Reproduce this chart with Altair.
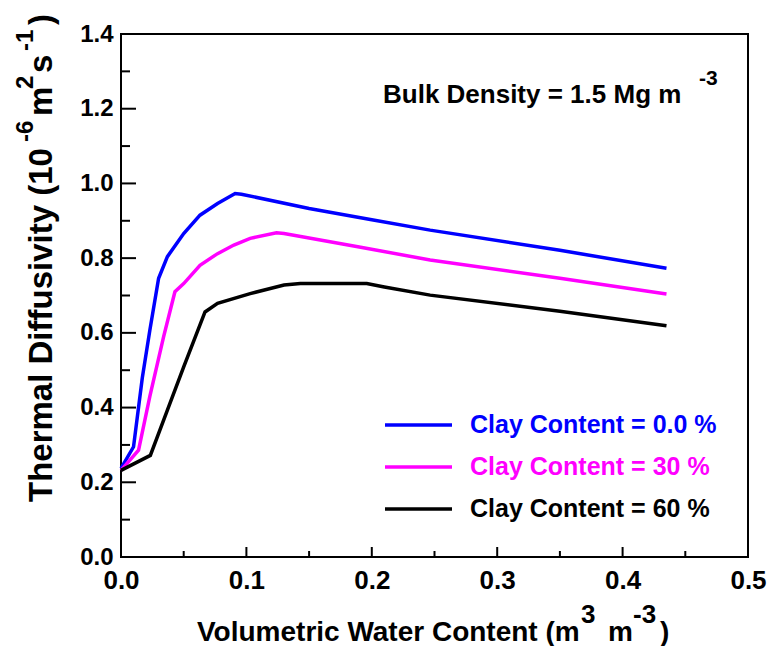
import altair as alt
import pandas as pd

# ---------------- data ----------------
series_names = ["Clay Content = 0.0 %", "Clay Content = 30 %", "Clay Content = 60 %"]
series_colors = ["#0000ff", "#ff00ff", "#000000"]

clay0_x = [0.0, 0.010, 0.017, 0.023, 0.030, 0.037, 0.050, 0.063, 0.077, 0.091, 0.096, 0.150, 0.200, 0.2465, 0.350, 0.435]
clay0_y = [0.237, 0.295, 0.480, 0.607, 0.746, 0.804, 0.866, 0.915, 0.946, 0.973, 0.971, 0.933, 0.903, 0.875, 0.821, 0.773]

clay30_x = [0.0, 0.014, 0.023, 0.034, 0.043, 0.050, 0.063, 0.077, 0.090, 0.103, 0.124, 0.130, 0.190, 0.2465, 0.350, 0.435]
clay30_y = [0.232, 0.286, 0.430, 0.590, 0.710, 0.732, 0.781, 0.812, 0.835, 0.853, 0.868, 0.866, 0.830, 0.795, 0.746, 0.704]

clay60_x = [0.0, 0.0234, 0.037, 0.050, 0.067, 0.077, 0.103, 0.130, 0.143, 0.196, 0.210, 0.2465, 0.350, 0.435]
clay60_y = [0.232, 0.272, 0.393, 0.509, 0.656, 0.679, 0.705, 0.728, 0.732, 0.732, 0.723, 0.701, 0.658, 0.619]

x_major = [0.0, 0.1, 0.2, 0.3, 0.4, 0.5]
x_minor = [0.05, 0.15, 0.25, 0.35, 0.45]
y_major = [0.0, 0.2, 0.4, 0.6, 0.8, 1.0, 1.2, 1.4]
y_minor = [0.1, 0.3, 0.5, 0.7, 0.9, 1.1, 1.3]

x_title_parts = ["Volumetric Water Content (m", "3", "m", "-3", ")"]
y_title_parts = ["Thermal Diffusivity (10", "-6", "m", "2", "s", "-1", ")"]
note_parts = ["Bulk Density = 1.5 Mg m", "-3"]

# ---------------- build ----------------
rows = []
for name, xs, ys in zip(series_names, [clay0_x, clay30_x, clay60_x], [clay0_y, clay30_y, clay60_y]):
    for i, (a, b) in enumerate(zip(xs, ys)):
        rows.append({"series": name, "theta": a, "alpha": b, "order": i})
df = pd.DataFrame(rows)

W, H = 627, 523
FONT = "Liberation Sans"

xscale = alt.Scale(domain=[0, 0.5], nice=False, zero=False)
yscale = alt.Scale(domain=[0, 1.4], nice=False, zero=False)
cscale = alt.Scale(domain=series_names, range=series_colors)

xaxis = alt.Axis(values=x_major, format=".1f", labelFont=FONT, labelFontSize=26,
                 labelFontWeight="bold", labelColor="black", ticks=False, domain=False,
                 grid=False, labelPadding=10, labelFlush=False, labelOverlap=False, title=None)
yaxis = alt.Axis(values=y_major, format=".1f", labelFont=FONT, labelFontSize=24,
                 labelFontWeight="bold", labelColor="black", ticks=False, domain=False,
                 grid=False, labelPadding=8, labelFlush=False, labelOverlap=False, title=None)


def X(field):
    return alt.X(field, scale=xscale, axis=xaxis)


def Y(field):
    return alt.Y(field, scale=yscale, axis=yaxis)


lines = alt.Chart(df).mark_line(strokeWidth=3.5, interpolate="linear").encode(
    x=X("theta:Q"),
    y=Y("alpha:Q"),
    color=alt.Color("series:N", scale=cscale, legend=None),
    order="order:Q",
)

xt_major = alt.Chart(pd.DataFrame({"v": x_major})).mark_rule(color="black", strokeWidth=2).encode(
    x=X("v:Q"), y=alt.value(H), y2=alt.value(H - 10))
xt_minor = alt.Chart(pd.DataFrame({"v": x_minor})).mark_rule(color="black", strokeWidth=2).encode(
    x=X("v:Q"), y=alt.value(H), y2=alt.value(H - 6))
yt_major = alt.Chart(pd.DataFrame({"v": y_major})).mark_rule(color="black", strokeWidth=2).encode(
    y=Y("v:Q"), x=alt.value(0), x2=alt.value(15))
yt_minor = alt.Chart(pd.DataFrame({"v": y_minor})).mark_rule(color="black", strokeWidth=2).encode(
    y=Y("v:Q"), x=alt.value(0), x2=alt.value(9))


def text_piece(txt, x, y, size, angle=0, color="black"):
    return alt.Chart(pd.DataFrame({"t": [txt]})).mark_text(
        font=FONT, fontSize=size, fontWeight="bold", color=color, align="left",
        baseline="alphabetic", angle=angle
    ).encode(text="t:N", x=alt.value(x), y=alt.value(y))


texts = []
# x title
texts.append(text_piece(x_title_parts[0], 76, 607, 28))
texts.append(text_piece(x_title_parts[1], 460, 589, 26))
texts.append(text_piece(x_title_parts[2], 487, 607, 28))
texts.append(text_piece(x_title_parts[3], 512, 589, 26))
texts.append(text_piece(x_title_parts[4], 539, 607, 28))
# y title (rotated)
texts.append(text_piece(y_title_parts[0], -69, 468, 33, 270))
texts.append(text_piece(y_title_parts[1], -88, 108, 24, 270))
texts.append(text_piece(y_title_parts[2], -69, 82, 33, 270))
texts.append(text_piece(y_title_parts[3], -88, 55, 24, 270))
texts.append(text_piece(y_title_parts[4], -69, 39, 33, 270))
texts.append(text_piece(y_title_parts[5], -88, 17, 24, 270))
texts.append(text_piece(y_title_parts[6], -69, -9, 33, 270))
# bulk density note
texts.append(text_piece(note_parts[0], 262, 69, 26))
texts.append(text_piece(note_parts[1], 578, 51, 21))

# legend
legend_layers = []
for i, (name, col) in enumerate(zip(series_names, series_colors)):
    ly = 391 + 42 * i
    legend_layers.append(
        alt.Chart(pd.DataFrame({"s": [name]})).mark_rule(color=col, strokeWidth=3.5).encode(
            x=alt.value(264), x2=alt.value(331), y=alt.value(ly))
    )
    legend_layers.append(text_piece(name, 349, ly + 8, 25, 0, col))

chart = alt.layer(
    xt_major, xt_minor, yt_major, yt_minor, lines, *texts, *legend_layers
).properties(
    width=W, height=H,
    autosize=alt.AutoSizeParams(type="none"),
    padding={"left": 113, "top": 26, "right": 20, "bottom": 89},
    background="white",
).configure_view(stroke="black", strokeWidth=2)

chart.save("out.html", embed_options={"renderer": "svg", "actions": False})
